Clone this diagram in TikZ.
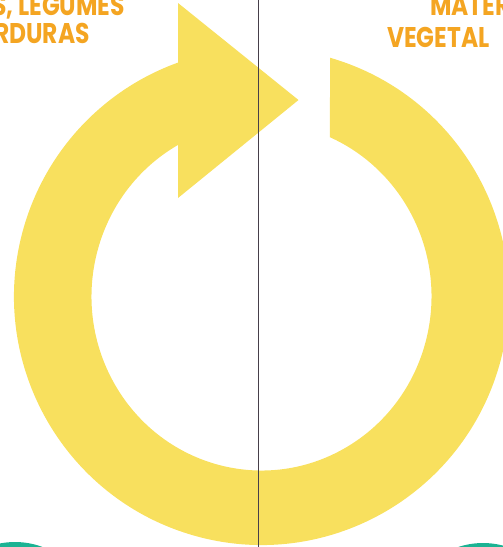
\documentclass[tikz,border=0pt]{standalone}
\usepackage{fontspec}
\usetikzlibrary{calc}
\newfontfamily\handfont{Poppins}[FakeStretch=0.82]
\definecolor{ringyellow}{HTML}{F8E05E}
\definecolor{tealc}{HTML}{1BB393}
\definecolor{labelorange}{HTML}{F4A522}
\definecolor{axisgray}{HTML}{463F4A}
\tikzset{
  lbl/.style={inner sep=0pt, text=labelorange, font=\handfont\bfseries\fontsize{28.5}{30}\selectfont},
  ringfill/.style={fill=ringyellow, draw=none},
  tealfill/.style={fill=tealc, draw=none}
}
\begin{document}
\begin{tikzpicture}[x=1pt,y=-1pt]
\useasboundingbox (0,0) rectangle (503,547);
\clip (0,0) rectangle (503,547);
% ring
\coordinate (c) at (261.5,296.5);
\fill[ringfill] ($(c)+(-73.93:247.5 and 248.5)$)
  arc[start angle=-73.93, end angle=250.28, x radius=247.5, y radius=248.5]
  -- ($(c)+(240.58:170 and 174)$)
  arc[start angle=240.58, end angle=-66.24, x radius=170, y radius=174]
  -- cycle;
% arrow head
\coordinate (ha) at (178,3);
\coordinate (hb) at (178,198);
\coordinate (ht) at (298.5,100);
\fill[ringfill] (ha) -- (ht) -- (hb) -- cycle;
% teal shapes
\fill[tealfill] (15,620) circle[radius=78];
\fill[tealfill] (483,621) circle[radius=78];
% axis
\coordinate (atop) at (258.3,-2);
\coordinate (abot) at (258.3,549);
\draw[axisgray, line width=1.6pt] (atop) -- (abot);
% labels
\node[lbl, anchor=base east] (l1) at (125,15) {FRUTAS, LEGUMES};
\node[lbl, anchor=base east] (l2) at (90,43) {E VERDURAS};
\node[lbl, anchor=base west] (r1) at (430,15) {MATÉRIA};
\node[lbl, anchor=base west] (r2) at (387,47) {VEGETAL};
\end{tikzpicture}
\end{document}
